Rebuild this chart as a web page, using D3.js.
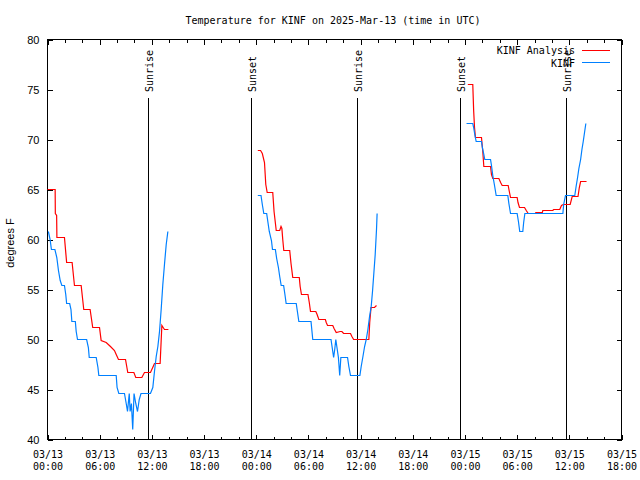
<!DOCTYPE html>
<html><head><meta charset="utf-8">
<script src="https://cdn.jsdelivr.net/npm/d3@7"></script>
<style>body{margin:0;background:#fff}svg{display:block}</style>
</head><body><svg id="c" width="640" height="480"></svg>
<script>
// ---- data (hours since 2025-03-13 00:00 UTC) ----
const startTime = "2025-03-13T00:00Z";
const endTime = "2025-03-15T18:00Z";
const yTicks = [40, 45, 50, 55, 60, 65, 70, 75, 80];
const titleText = "Temperature for KINF on 2025-Mar-13 (time in UTC)";
const yLabel = "degrees F";
const seriesNames = ["KINF Analysis", "KINF"];
const seriesColors = ["#ff0000", "#0080ff"];

const analysisHours = [
  0.0, 0.88, 0.9, 1.05, 1.08, 1.95, 2.2, 2.83, 3.1, 3.87, 4.17, 4.9, 5.2, 5.98, 6.17, 6.75, 7.24, 7.7, 7.9, 8.16, 8.97, 9.23, 9.93, 10.15, 10.85, 11.15, 11.84, 12.1, 12.3, 12.95, 13.15, 13.3, 13.45, 13.9,
  null,
  24.18, 24.5, 24.7, 24.95, 25.1, 25.26, 25.9, 26.05, 26.3, 26.7, 26.85, 26.95, 27.05, 27.17, 27.85, 28.0, 28.2, 28.95, 29.05, 29.2, 29.95, 30.1, 30.24, 30.85, 31.0, 31.2, 31.95, 32.05, 32.2, 32.8, 32.95, 33.2, 33.65, 33.85, 34.05, 34.84, 35.0, 35.2, 36.95, 37.05, 37.2, 37.6, 37.83,
  null,
  48.33, 48.9, 49.0, 49.1, 49.21, 49.9, 50.05, 50.17, 50.94, 51.05, 51.2, 51.9, 52.1, 52.28, 52.97, 53.1, 53.24, 54.0, 54.1, 54.27, 54.85, 55.05, 55.27, 56.1, 56.15, 56.9, 56.95, 58.1, 58.2, 58.9, 59.1, 59.3, 60.1, 60.33, 61.0, 61.15, 61.3, 61.98
];
const analysisTemps = [
  65.0, 65.0, 62.6, 62.4, 60.2, 60.2, 57.7, 57.7, 55.4, 55.4, 53.0, 53.0, 51.2, 51.2, 49.9, 49.7, 49.3, 48.9, 48.5, 48.0, 48.0, 46.7, 46.7, 46.2, 46.2, 46.7, 46.7, 47.2, 47.6, 47.6, 51.4, 51.2, 51.0, 51.0,
  null,
  68.9, 68.9, 68.6, 67.7, 65.5, 64.7, 64.7, 62.8, 60.9, 60.9, 61.3, 61.1, 60.0, 58.9, 58.9, 57.6, 56.2, 56.2, 55.3, 54.5, 54.5, 53.7, 52.8, 52.8, 52.5, 52.0, 52.0, 51.7, 51.4, 51.4, 51.1, 50.7, 50.8, 50.8, 50.6, 50.6, 50.3, 50.0, 50.0, 51.7, 53.2, 53.2, 53.4,
  null,
  75.5, 75.5, 72.9, 71.2, 70.2, 70.2, 68.8, 67.3, 67.3, 66.5, 66.1, 66.1, 65.7, 65.4, 65.4, 64.8, 64.2, 64.2, 63.7, 63.2, 63.2, 62.9, 62.6, 62.6, 62.7, 62.7, 62.9, 62.9, 63.0, 63.0, 63.4, 63.5, 63.5, 64.3, 64.3, 65.2, 65.8, 65.8
];

const obsHours = [
  0.1, 0.3, 0.45, 0.85, 1.07, 1.26, 1.46, 1.65, 1.95, 2.1, 2.2, 2.55, 2.7, 2.8, 3.2, 3.3, 3.45, 4.5, 4.7, 4.8, 5.6, 5.8, 5.9, 7.9, 8.0, 8.2, 8.85, 9.05, 9.2, 9.4, 9.5, 9.65, 9.8, 9.95, 10.15, 10.35, 10.55, 10.75, 11.84, 12.11, 12.3, 12.5, 12.69, 12.88, 13.07, 13.26, 13.45, 13.65, 13.84,
  null,
  24.18, 24.55, 24.7, 24.87, 25.2, 25.35, 25.5, 25.75, 25.87, 26.2, 26.35, 26.55, 26.7, 26.87, 27.15, 27.3, 27.44, 28.6, 28.75, 28.9, 30.3, 30.4, 30.5, 32.6, 32.75, 32.9, 33.04, 33.15, 33.3, 33.45, 33.6, 33.73, 34.5, 34.65, 34.84, 35.92, 36.07, 36.27, 36.46, 36.65, 36.84, 37.03, 37.22, 37.37, 37.53, 37.68, 37.83, 37.9,
  null,
  48.18, 48.9, 49.0, 49.15, 49.29, 49.9, 50.0, 50.15, 50.28, 50.94, 51.05, 51.2, 51.4, 51.59, 52.93, 53.05, 53.24, 54.0, 54.15, 54.3, 54.65, 54.75, 54.89, 59.26, 59.35, 59.56, 60.63, 60.78, 60.95, 61.1, 61.3, 61.45, 61.6, 61.75, 61.9
];
const obsTemps = [
  60.8, 60.0, 59.0, 59.0, 58.2, 56.9, 55.9, 55.4, 55.4, 54.5, 53.6, 53.6, 53.0, 51.8, 51.8, 50.8, 50.0, 50.0, 49.2, 48.2, 48.2, 47.2, 46.4, 46.4, 45.2, 44.6, 44.6, 43.6, 42.8, 44.6, 42.8, 43.6, 41.0, 44.6, 43.6, 42.8, 44.0, 44.6, 44.6, 45.2, 46.8, 48.3, 49.3, 50.8, 53.0, 55.5, 57.5, 59.5, 60.8,
  null,
  64.4, 64.4, 63.5, 62.6, 62.6, 61.7, 60.8, 59.9, 59.0, 59.0, 58.1, 57.2, 56.3, 55.4, 55.4, 54.5, 53.6, 53.6, 52.7, 51.8, 51.8, 50.9, 50.0, 50.0, 49.1, 48.2, 49.1, 50.0, 49.1, 48.2, 46.4, 48.2, 48.2, 47.3, 46.4, 46.4, 47.3, 48.3, 49.3, 50.0, 51.0, 52.3, 53.3, 54.8, 56.7, 58.5, 61.0, 62.6,
  null,
  71.6, 71.6, 71.2, 70.4, 69.8, 69.8, 69.2, 68.6, 68.0, 68.0, 67.4, 66.4, 65.4, 64.4, 64.4, 63.6, 62.6, 62.6, 61.8, 60.8, 60.8, 61.7, 62.6, 62.6, 63.5, 64.4, 64.4, 65.3, 66.2, 67.1, 68.0, 69.0, 69.8, 70.7, 71.6
];

const sunEventNames = ["Sunrise", "Sunset", "Sunrise", "Sunset", "Sunrise"];
const sunEventTimes = ["2025-03-13T11:37Z", "2025-03-13T23:29Z", "2025-03-14T11:39Z", "2025-03-14T23:29Z", "2025-03-15T11:41Z"];

// ---- drawing ----
const parse = d3.utcParse("%Y-%m-%dT%H:%MZ");
const t0 = parse(startTime), t1 = parse(endTime);
const toDate = h => new Date(t0.getTime() + h * 3600e3);

const L = 47.5, R = 621.5, T = 39.5, B = 439.5;
const x = d3.scaleUtc().domain([t0, t1]).range([L, R]);
const y = d3.scaleLinear().domain([40, 80]).range([B, T]);

const svg = d3.select("#c");
const mono = "'DejaVu Sans Mono', 'Liberation Mono', monospace";
const sans = "'Liberation Sans', Arial, sans-serif";

const majorTicks = d3.utcHour.every(6).range(t0, new Date(t1.getTime() + 1));
const minorTicks = d3.utcHour.every(2).range(t0, new Date(t1.getTime() + 1)).filter(d => d.getUTCHours() % 6 !== 0);

function styleAxis(g) {
  g.select(".domain").remove();
  g.selectAll("line").attr("stroke", "#000").attr("shape-rendering", "crispEdges");
}

// x ticks bottom & top (inward)
svg.append("g").attr("transform", `translate(0,${B})`)
  .call(d3.axisBottom(x).tickValues(minorTicks).tickSizeInner(-3).tickSizeOuter(0).tickFormat(""))
  .call(styleAxis);
svg.append("g").attr("transform", `translate(0,${T})`)
  .call(d3.axisTop(x).tickValues(minorTicks).tickSizeInner(-3).tickSizeOuter(0).tickFormat(""))
  .call(styleAxis);
svg.append("g").attr("transform", `translate(0,${T})`)
  .call(d3.axisTop(x).tickValues(majorTicks).tickSizeInner(-5).tickSizeOuter(0).tickFormat(""))
  .call(styleAxis);
const fmtDay = d3.utcFormat("%m/%d"), fmtHr = d3.utcFormat("%H:%M");
const xb = svg.append("g").attr("transform", `translate(0,${B})`)
  .call(d3.axisBottom(x).tickValues(majorTicks).tickSizeInner(-5).tickSizeOuter(0).tickFormat(""))
  .call(styleAxis);
xb.selectAll(".tick text").each(function(d) {
  const t = d3.select(this).attr("y", null).attr("dy", null)
    .attr("font-family", mono).attr("font-size", 10).attr("fill", "#000");
  t.append("tspan").attr("x", 0).attr("y", 18.5).text(fmtDay(d));
  t.append("tspan").attr("x", 0).attr("y", 30.5).text(fmtHr(d));
});

// y ticks left & right (inward)
const yl = svg.append("g").attr("transform", `translate(${L},0)`)
  .call(d3.axisLeft(y).tickValues(yTicks).tickSizeInner(-5).tickSizeOuter(0).tickPadding(8))
  .call(styleAxis);
yl.selectAll("text").attr("font-family", sans).attr("font-size", 11).attr("fill", "#000");
svg.append("g").attr("transform", `translate(${R},0)`)
  .call(d3.axisRight(y).tickValues(yTicks).tickSizeInner(-5).tickSizeOuter(0).tickFormat(""))
  .call(styleAxis);

// frame
svg.append("rect").attr("x", L).attr("y", T).attr("width", R - L).attr("height", B - T)
  .attr("fill", "none").attr("stroke", "#000").attr("shape-rendering", "crispEdges");

// title & y label
svg.append("text").attr("x", 333).attr("y", 24).attr("text-anchor", "middle")
  .attr("font-family", mono).attr("font-size", 10).text(titleText);
svg.append("text").attr("transform", "translate(14,243) rotate(-90)").attr("text-anchor", "middle")
  .attr("font-family", sans).attr("font-size", 11).text(yLabel);

// sunrise / sunset lines
const sun = svg.append("g");
sunEventTimes.forEach((s, i) => {
  const xx = Math.round(x(parse(s)) - 0.5) + 0.5;
  sun.append("line").attr("x1", xx).attr("x2", xx).attr("y1", 98).attr("y2", B)
    .attr("stroke", "#000").attr("stroke-width", 1).attr("shape-rendering", "crispEdges");
  sun.append("text").attr("transform", `translate(${xx + 4.5},92) rotate(-90)`)
    .attr("font-family", mono).attr("font-size", 10).text(sunEventNames[i]);
});

// series
function pts(hours, temps) {
  return hours.map((h, i) => h == null ? null : { date: toDate(h), v: temps[i] });
}
const line = d3.line().defined(d => d != null).x(d => x(d.date)).y(d => y(d.v));
const series = [pts(analysisHours, analysisTemps), pts(obsHours, obsTemps)];
series.forEach((s, i) => {
  svg.append("path").datum(s).attr("d", line).attr("fill", "none")
    .attr("stroke", seriesColors[i]).attr("stroke-width", 1.2);
});

// legend
const lg = svg.append("g");
seriesNames.forEach((n, i) => {
  const by = 54 + i * 12.5;
  lg.append("text").attr("x", 575).attr("y", by).attr("text-anchor", "end")
    .attr("font-family", mono).attr("font-size", 10).text(n);
  lg.append("line").attr("x1", 582).attr("x2", 610).attr("y1", Math.round(by - 4.5) + 0.5).attr("y2", Math.round(by - 4.5) + 0.5)
    .attr("stroke", seriesColors[i]).attr("stroke-width", 1).attr("shape-rendering", "crispEdges");
});
</script>
</body></html>
